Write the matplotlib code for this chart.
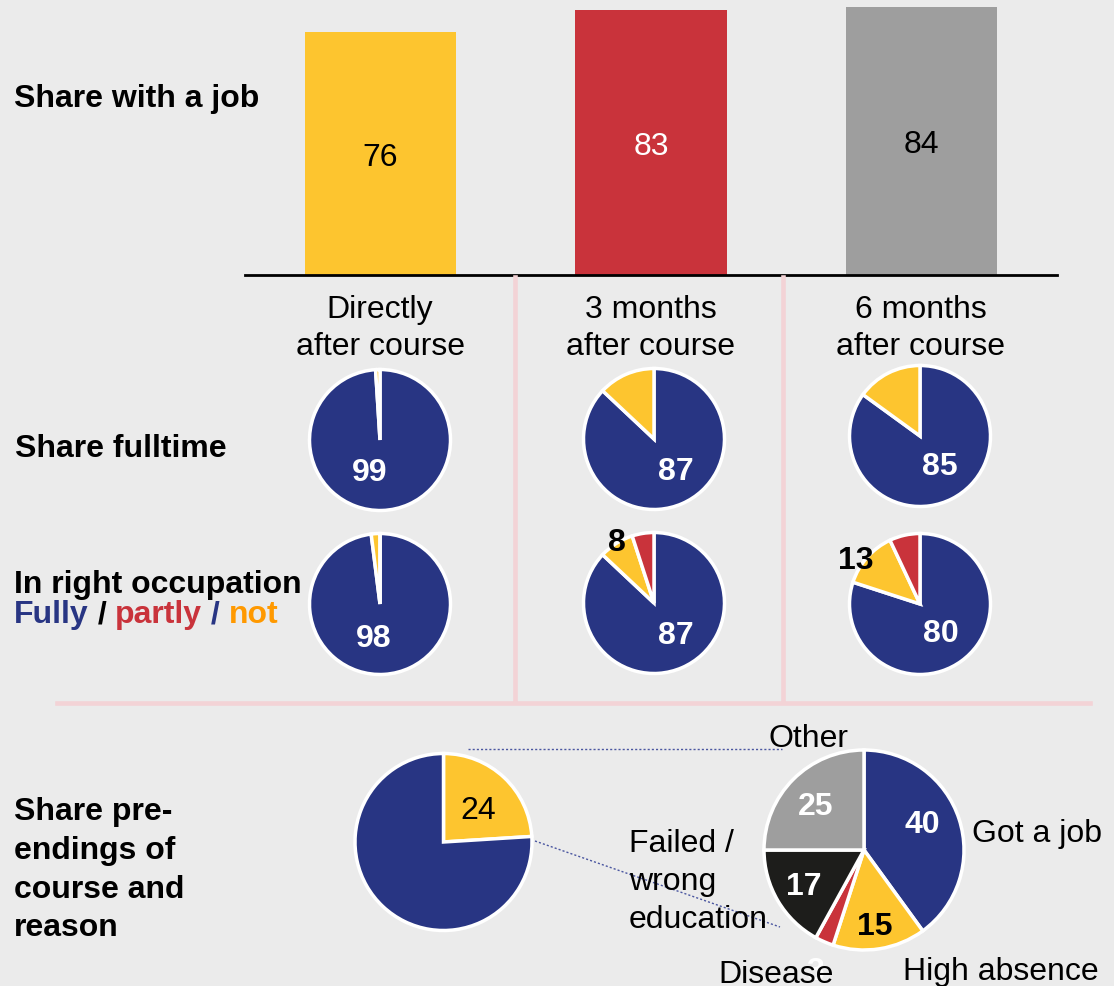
import matplotlib
matplotlib.use('Agg')
import matplotlib.pyplot as plt
from matplotlib.lines import Line2D
from matplotlib.transforms import offset_copy

plt.rcParams['font.family'] = ['Liberation Sans', 'DejaVu Sans']

# data
periods = [['Directly', 'after course'], ['3 months', 'after course'], ['6 months', 'after course']]
job_share = [76, 83, 84]
fulltime = [[99, 1], [87, 13], [85, 15]]            # fulltime / part time
occupation = [[98, 2, 0], [87, 8, 5], [80, 13, 7]]  # fully / not / partly
pre_end = [24, 76]                                  # pre-ended / completed
reasons = ['Got a job', 'High absence', 'Disease', 'Failed /\nwrong\neducation', 'Other']
reason_share = [40, 15, 3, 17, 25]

NAVY = '#283583'
YELLOW = '#FDC52F'
RED = '#C9333B'
GREY = '#9E9E9E'
DARK = '#1D1D1B'
ORANGE = '#FF9900'
PINK = '#F3D3D6'
BG = '#EBEBEB'

W, H = 1114, 987
FS = 23

fig = plt.figure(figsize=(W / 100, H / 100), dpi=100, facecolor=BG)


def put(x, y, s, **kw):
    # x, y in pixels from top-left, y is the baseline
    kw.setdefault('fontsize', FS)
    return fig.text(x / W, 1 - y / H, s, va='baseline', **kw)


def draw_pie(cx, cy, r, values, colors, lw=2.5):
    half = r + 6
    ax = fig.add_axes([(cx - half) / W, 1 - (cy + half) / H, 2 * half / W, 2 * half / H])
    ax.pie(values, colors=colors, radius=r, startangle=90, counterclock=False,
           wedgeprops=dict(edgecolor='white', linewidth=lw))
    ax.set_xlim(-half, half)
    ax.set_ylim(-half, half)
    ax.axis('off')
    return ax


# separators
pink_kw = dict(color=PINK, lw=3.3, transform=fig.transFigure, zorder=0.5)
for x in [515, 783]:
    fig.add_artist(Line2D([x / W, x / W], [1 - 278 / H, 1 - 702 / H], **pink_kw))
fig.add_artist(Line2D([57 / W, 1090 / W], [1 - 704 / H, 1 - 704 / H], **pink_kw))

# share with a job - bars
ax = fig.add_axes([245 / W, 1 - 276 / H, (1057 - 245) / W, 276 / H])
ax.patch.set_visible(False)
bar_colors = [YELLOW, RED, GREY]
ax.bar(range(len(job_share)), job_share, width=0.558, color=bar_colors)
ax.set_xlim(-0.5, 2.5)
ax.set_ylim(0, 276 / 3.193)
for s in ['top', 'left', 'right']:
    ax.spines[s].set_visible(False)
ax.spines['bottom'].set_linewidth(2)
ax.spines['bottom'].set_color('black')
ax.set_xticks([])
ax.set_yticks([])
lab_tr = offset_copy(ax.transData, fig=fig, x=0, y=-11.4, units='dots')
for i, v in enumerate(job_share):
    ax.text(i, v / 2, str(v), transform=lab_tr, ha='center', va='baseline',
            fontsize=FS, color='white' if bar_colors[i] == RED else 'black')

col_x = [380, 651, 921]
for cx, lines in zip(col_x, periods):
    put(cx, 318, lines[0], ha='center')
    put(cx, 355, lines[1], ha='center')

# row labels
bold = dict(fontweight='bold')
put(14, 107, 'Share with a job', **bold)
put(15, 457, 'Share fulltime', **bold)
put(14, 593, 'In right occupation', **bold)
for y, s in zip([820, 859, 898, 936], ['Share pre-', 'endings of', 'course and', 'reason']):
    put(14, y, s, **bold)

# Fully / partly / not, one coloured piece after the other
renderer = fig.canvas.get_renderer()
x = 14
for s, c in [('Fully', NAVY), (' / ', 'black'), ('partly', RED), (' / ', NAVY), ('not', ORANGE)]:
    t = put(x, 623, s, color=c, **bold)
    x = t.get_window_extent(renderer).x1

# fulltime pies
ft_centers = [(380, 441), (654, 440), (920, 437)]
ft_labels = [(370, 481), (676, 480), (940, 475)]
for (cx, cy), vals, (lx, ly) in zip(ft_centers, fulltime, ft_labels):
    draw_pie(cx, cy, 70.5, vals, [NAVY, YELLOW])
    put(lx, ly, str(vals[0]), ha='center', color='white', **bold)

# right occupation pies
oc_centers = [(380, 605), (654, 604), (920, 605)]
oc_labels = [(374, 647), (676, 644), (941, 642)]
oc_small = [None, (617, 551), (856, 569)]
for (cx, cy), vals, (lx, ly), sm in zip(oc_centers, occupation, oc_labels, oc_small):
    draw_pie(cx, cy, 70.5, vals, [NAVY, YELLOW, RED])
    put(lx, ly, str(vals[0]), ha='center', color='white', **bold)
    if sm:
        put(sm[0], sm[1], str(vals[1]), ha='center', color='black', **bold)

# pre-endings and reasons
draw_pie(443.5, 843, 88.5, pre_end, [YELLOW, NAVY])
put(478, 819, str(pre_end[0]), ha='center')

draw_pie(864, 851, 100, reason_share, [NAVY, YELLOW, RED, DARK, GREY])
val_pos = [(922, 833), (875, 935), (815, 980), (804, 895), (816, 815)]
val_col = ['white', 'black', 'white', 'white', 'white']
for v, (lx, ly), c in zip(reason_share, val_pos, val_col):
    put(lx, ly, str(v), ha='center', color=c, zorder=2.9, **bold)

name_pos = [(972, 842), (903, 980), (718, 983), (629, 852), (769, 747)]
for name, (lx, ly) in zip(reasons, name_pos):
    for k, line in enumerate(name.split('\n')):
        put(lx, ly + 38 * k, line, ha='left', color='black')

# dotted connectors between the two bottom pies
con_kw = dict(color='#4A56A0', lw=1.0, ls=(0, (1.5, 1.5)), transform=fig.transFigure, zorder=2.5)
fig.add_artist(Line2D([468 / W, 782 / W], [1 - 750 / H, 1 - 750 / H], **con_kw))
fig.add_artist(Line2D([535 / W, 780 / W], [1 - 842 / H, 1 - 928 / H], **con_kw))

fig.savefig('out.png', dpi=100, facecolor=BG)
